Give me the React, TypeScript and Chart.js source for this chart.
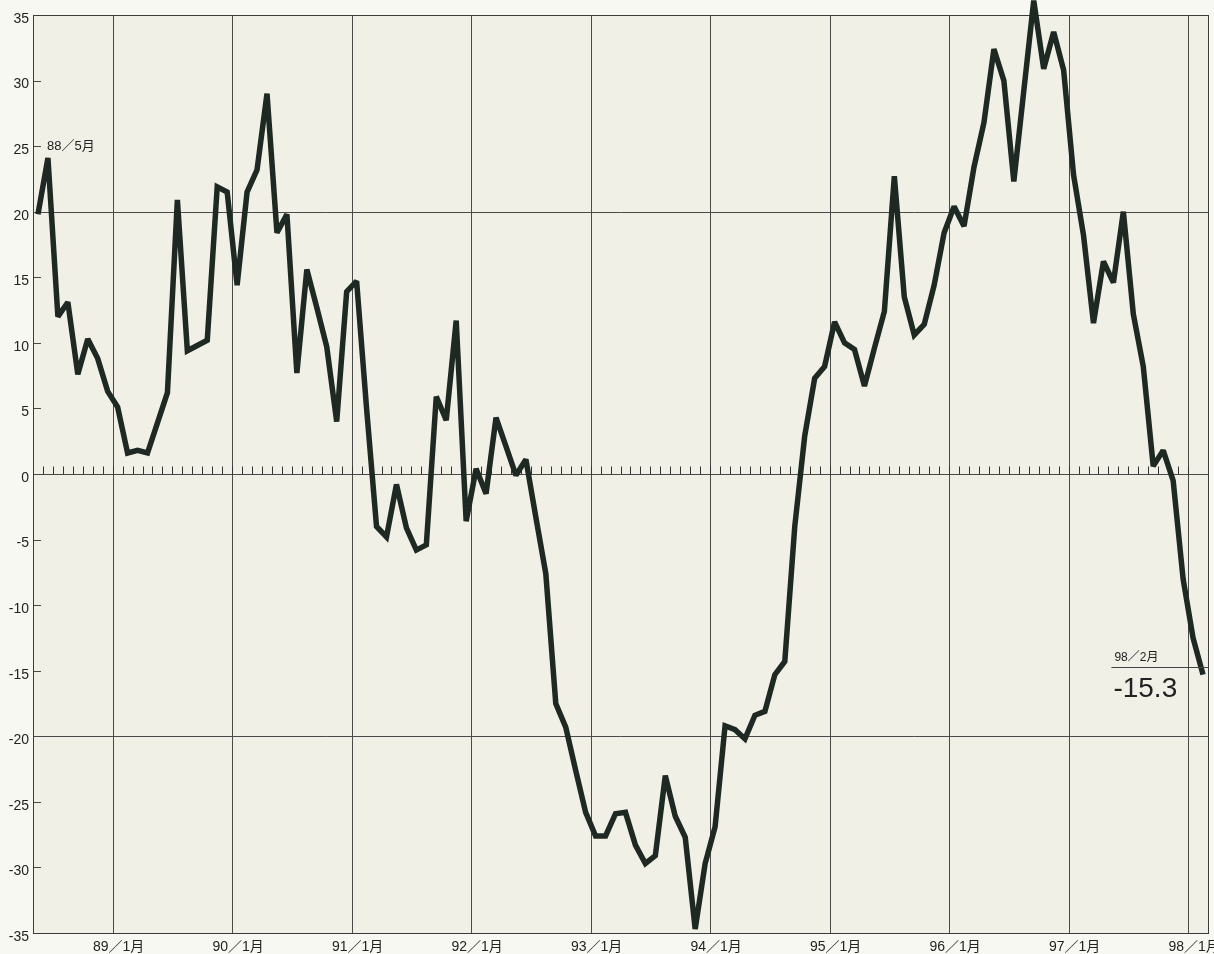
import React, { useEffect, useRef } from "react";
import { Chart, registerables } from "chart.js";

Chart.register(...registerables);

// Monthly values, starting 88/5 (one array per calendar year)
const v1988 = [19.8, 24.1, 12.0, 13.1, 7.6, 10.3, 8.8, 6.3];
const v1989 = [5.1, 1.6, 1.8, 1.6, 3.9, 6.2, 20.9, 9.4, 9.8, 10.2, 21.9, 21.5];
const v1990 = [14.4, 21.5, 23.2, 29.0, 18.4, 19.8, 7.7, 15.6, 12.7, 9.7, 4.0, 13.9];
const v1991 = [14.7, 5.0, -4.0, -4.8, -0.8, -4.1, -5.8, -5.4, 5.9, 4.1, 11.7, -3.6];
const v1992 = [0.4, -1.5, 4.3, 2.1, -0.1, 1.1, -3.3, -7.6, -17.5, -19.3, -22.6, -25.8];
const v1993 = [-27.6, -27.6, -25.9, -25.8, -28.3, -29.7, -29.1, -23.0, -26.1, -27.7, -34.7, -29.7];
const v1994 = [-26.9, -19.2, -19.5, -20.2, -18.4, -18.1, -15.3, -14.3, -4.0, 2.9, 7.3, 8.2];
const v1995 = [11.6, 10.0, 9.5, 6.7, 9.6, 12.4, 22.7, 13.5, 10.6, 11.4, 14.4, 18.4];
const v1996 = [20.4, 18.9, 23.4, 26.8, 32.4, 30.0, 22.3, 29.2, 36.1, 30.9, 33.7, 30.8];
const v1997 = [22.8, 18.2, 11.5, 16.2, 14.6, 20.0, 12.2, 8.2, 0.6, 1.8, -0.5, -8.0];
const v1998 = [-12.5, -15.3];

const yearLabels = ["89／1月", "90／1月", "91／1月", "92／1月", "93／1月", "94／1月", "95／1月", "96／1月", "97／1月", "98／1月"];
const yearStarts = [8, 20, 32, 44, 56, 68, 80, 92, 104, 116]; // month index of each January (88/5 = 0)
const majorLines = [20, 0, -20];
const startLabel = "88／5月";
const endLabel = "98／2月";
const endValueLabel = "-15.3";

const values = [...v1988, ...v1989, ...v1990, ...v1991, ...v1992, ...v1993, ...v1994, ...v1995, ...v1996, ...v1997, ...v1998];

const FONT = '"Liberation Sans", "Noto Sans CJK JP", Arial, sans-serif';

const gridPlugin = {
  id: "paperGrid",
  beforeDraw(chart: any) {
    const { ctx, chartArea: a, width, height } = chart;
    ctx.save();
    ctx.fillStyle = "#f8f8f3";
    ctx.fillRect(0, 0, width, height);
    ctx.fillStyle = "#f1f0e6";
    ctx.fillRect(a.left, a.top, a.right - a.left, a.bottom - a.top);
    ctx.restore();
  },
  beforeDatasetsDraw(chart: any) {
    const { ctx, chartArea: a, scales } = chart;
    const x = scales.x;
    const y = scales.y;
    ctx.save();
    ctx.lineWidth = 1;
    ctx.strokeStyle = "#4a4a48";
    majorLines.forEach((v) => {
      const py = Math.round(y.getPixelForValue(v)) + 0.5;
      ctx.beginPath();
      ctx.moveTo(a.left, py);
      ctx.lineTo(a.right, py);
      ctx.stroke();
    });
    yearStarts.forEach((m) => {
      const px = Math.round(x.getPixelForValue(m)) + 0.5;
      ctx.beginPath();
      ctx.moveTo(px, a.top);
      ctx.lineTo(px, a.bottom);
      ctx.stroke();
    });
    for (let v = -30; v <= 30; v += 5) {
      const py = Math.round(y.getPixelForValue(v)) + 0.5;
      ctx.beginPath();
      ctx.moveTo(a.left, py);
      ctx.lineTo(a.left + 8, py);
      ctx.stroke();
    }
    const y0 = Math.round(y.getPixelForValue(0)) + 0.5;
    ctx.strokeStyle = "#333";
    for (let m = 1; m <= yearStarts[yearStarts.length - 1]; m++) {
      const px = Math.round(x.getPixelForValue(m)) + 0.5;
      ctx.beginPath();
      ctx.moveTo(px, y0);
      ctx.lineTo(px, y0 - 8);
      ctx.stroke();
    }
    ctx.strokeStyle = "#3c3c3a";
    ctx.strokeRect(Math.round(a.left) + 0.5, Math.round(a.top) + 0.5, Math.round(a.right - a.left), Math.round(a.bottom - a.top));
    ctx.restore();
    // keep sharp peaks from overshooting
    ctx.miterLimit = 2.2;
  },
  afterDraw(chart: any) {
    const { ctx, scales } = chart;
    const x = scales.x;
    const y = scales.y;
    ctx.save();
    ctx.fillStyle = "#222";
    ctx.textBaseline = "middle";
    ctx.textAlign = "left";
    ctx.font = `13px ${FONT}`;
    ctx.fillText(startLabel, x.getPixelForValue(1.4), y.getPixelForValue(25));
    const lx = x.getPixelForValue(108.5);
    const ly = y.getPixelForValue(-14.7);
    ctx.font = `12px ${FONT}`;
    ctx.textBaseline = "alphabetic";
    ctx.fillText(endLabel, lx + 1, ly - 6);
    ctx.strokeStyle = "#444";
    ctx.lineWidth = 1;
    ctx.beginPath();
    ctx.moveTo(lx - 2, Math.round(ly) + 0.5);
    ctx.lineTo(chart.chartArea.right, Math.round(ly) + 0.5);
    ctx.stroke();
    ctx.font = `28px ${FONT}`;
    ctx.fillText(endValueLabel, lx, ly + 30);
    ctx.restore();
  },
};

export default function App() {
  const ref = useRef<HTMLCanvasElement | null>(null);
  useEffect(() => {
    if (!ref.current) return;
    const chart = new Chart(ref.current, {
      type: "line",
      data: {
        datasets: [
          {
            data: values.map((v, i) => ({ x: i + 0.5, y: v })),
            borderColor: "#1e2923",
            borderWidth: 5.5,
            pointRadius: 0,
            tension: 0,
            fill: false,
            clip: false as any,
            borderJoinStyle: "miter",
          },
        ],
      },
      options: {
        responsive: false,
        animation: false,
        events: [],
        layout: { padding: { top: 15, right: 6, left: 0, bottom: 0 } },
        plugins: { legend: { display: false }, tooltip: { enabled: false } },
        scales: {
          x: {
            type: "linear",
            min: 0,
            max: 118,
            grid: { display: false, drawTicks: false },
            border: { display: false },
            afterBuildTicks: (scale: any) => {
              scale.ticks = yearStarts.map((v) => ({ value: v }));
            },
            afterFit: (scale: any) => {
              scale.height = 21;
              scale.paddingLeft = 0;
              scale.paddingRight = 0;
            },
            ticks: {
              autoSkip: false,
              maxRotation: 0,
              padding: 6,
              labelOffset: 6,
              color: "#222",
              font: { family: FONT, size: 14 },
              callback: (val: any) => {
                const k = yearStarts.indexOf(Number(val));
                return k >= 0 ? yearLabels[k] : "";
              },
            },
          },
          y: {
            type: "linear",
            min: -35,
            max: 35,
            grid: { display: false, drawTicks: false },
            border: { display: false },
            afterFit: (scale: any) => {
              scale.width = 33;
              scale.paddingTop = 0;
              scale.paddingBottom = 0;
            },
            ticks: {
              stepSize: 5,
              padding: 4,
              labelOffset: 4,
              color: "#222",
              font: { family: FONT, size: 14 },
            },
          },
        },
      },
      plugins: [gridPlugin],
    } as any);
    return () => chart.destroy();
  }, []);
  return (
    <div style={{ position: "absolute", left: 0, top: 0, width: 1214, height: 954, overflow: "hidden" }}>
      <canvas ref={ref} width={1214} height={954} style={{ display: "block" }} />
    </div>
  );
}
